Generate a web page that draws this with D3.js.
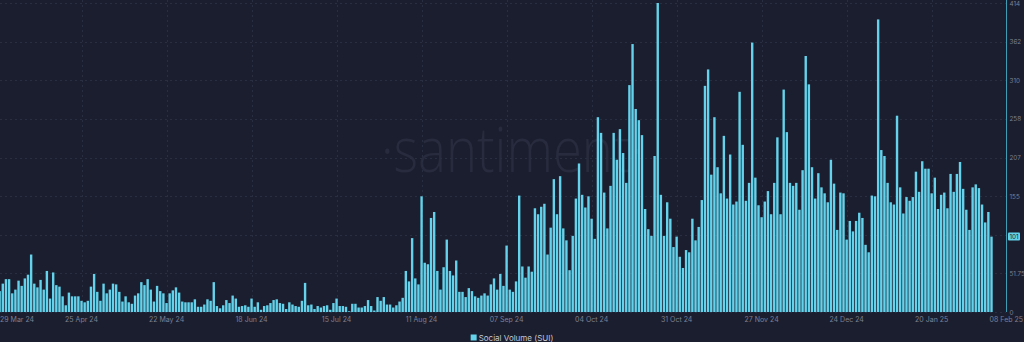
<!DOCTYPE html>
<html>
<head>
<meta charset="utf-8">
<script src="https://cdn.jsdelivr.net/npm/d3@7"></script>
<style>
  html, body { margin: 0; padding: 0; background: #1b1e2e; }
  svg { display: block; }
</style>
</head>
<body>
<svg id="chart" width="1024" height="342"></svg>
<script>
// ---------- DATA ----------
const startDate = "2024-03-29";
const endDate = "2025-02-08";
const seriesName = "Social Volume (SUI)";

const volumeMarToMay = [34,28,38,44,44,25,30,42,35,45,50,77,38,33,43,30,55,18,53,36,34,21,9,26,21,21,21,15,13,15,34,51,27,15,38,25,30,38,37,27,14,21,13,11,22,25,40,36,44,30,14,35,28,25,12,25,29,33,26,14,13,13,13,17,7,7,10,17,15,40,8,5,9,16,12,22,18,7,8,9];
const volumeJunToAug = [7,18,7,13,3,8,9,12,16,17,12,11,4,13,10,8,7,15,39,9,10,4,8,6,8,9,3,12,18,8,8,7,1,11,11,6,6,8,16,8,2,20,15,20,10,10,6,9,14,19,55,41,99,45,37,155,66,64,126,134,55,30,60,97,55,49,69,27,27,20,32,28,21,19,22,25,22,37,45,30];
const volumeAugToNov = [51,35,89,30,27,41,156,61,46,61,54,139,131,141,145,77,113,178,131,182,112,96,56,102,152,199,157,140,155,125,98,261,240,160,112,169,240,204,245,213,173,304,359,272,257,237,138,111,102,209,414,157,102,147,125,87,101,74,59,83,80,125,96,114,150,303,325,184,261,194,159,236,152,211,144,148,295,224,149,173];
const volumeNovToFeb = [361,180,143,127,148,162,131,173,234,131,298,241,173,169,173,137,190,343,305,194,152,186,167,159,147,204,172,110,160,159,97,122,108,122,133,126,90,80,156,155,392,217,209,173,147,144,263,167,132,154,149,154,188,161,202,192,192,159,180,138,157,160,139,185,161,185,201,165,137,110,167,171,166,144,120,134,101];

const xTickDates = ["2024-03-29","2024-04-25","2024-05-22","2024-06-18","2024-07-15","2024-08-11","2024-09-07","2024-10-04","2024-10-31","2024-11-27","2024-12-24","2025-01-20","2025-02-08"];
const xTickLabels = ["29 Mar 24","25 Apr 24","22 May 24","18 Jun 24","15 Jul 24","11 Aug 24","07 Sep 24","04 Oct 24","31 Oct 24","27 Nov 24","24 Dec 24","20 Jan 25","08 Feb 25"];
const yTickValues = [0, 51.75, 103.5, 155.25, 207, 258.75, 310.5, 362.25, 414];
const yTickLabels = ["0","51.75","","155","207","258","310","362","414"];

// ---------- BUILD ----------
const parse = d3.utcParse("%Y-%m-%d");
const values = [].concat(volumeMarToMay, volumeJunToAug, volumeAugToNov, volumeNovToFeb);
const dates = d3.utcDay.range(parse(startDate), d3.utcDay.offset(parse(endDate), 1));
const data = dates.map((d, i) => ({date: d, value: values[i]})).filter(d => d.value != null);

const svg = d3.select("#chart");
const W = 1024, H = 342;

const x = d3.scaleUtc().domain([parse(startDate), parse(endDate)]).range([-3.5, 991.5]);
const y = d3.scaleLinear().domain([0, 414]).range([312, 3]);
const step = x(d3.utcDay.offset(parse(startDate), 1)) - x(parse(startDate));
const barW = step * 0.76;

const font = "Inter, 'Open Sans', 'DejaVu Sans', sans-serif";

// background
svg.append("rect").attr("width", W).attr("height", H).attr("fill", "#1b1e2e");

// watermark
svg.append("text")
  .attr("x", 512).attr("y", 172)
  .attr("text-anchor", "middle")
  .attr("font-family", "'Open Sans', Lato, sans-serif")
  .attr("font-weight", 300)
  .attr("font-size", 62)
  .attr("fill", "#272b3d")
  .attr("textLength", 262)
  .attr("lengthAdjust", "spacingAndGlyphs")
  .text("·santiment·");

// grid lines
const grid = svg.append("g");
grid.selectAll("line.h").data(yTickValues).join("line")
  .attr("x1", 0).attr("x2", 1006)
  .attr("y1", d => Math.round(y(d)) + 0.5).attr("y2", d => Math.round(y(d)) + 0.5)
  .attr("stroke", "#2a2e41").attr("stroke-width", 1).attr("stroke-dasharray", "2,3");
grid.selectAll("line.v").data(xTickDates.slice(1, -1)).join("line")
  .attr("x1", d => Math.round(x(parse(d))) + 0.5).attr("x2", d => Math.round(x(parse(d))) + 0.5)
  .attr("y1", 0).attr("y2", 312)
  .attr("stroke", "#2a2e41").attr("stroke-width", 1).attr("stroke-dasharray", "2,3");

// bars
svg.append("g").selectAll("rect").data(data).join("rect")
  .attr("x", d => x(d.date) - barW / 2)
  .attr("width", barW)
  .attr("y", d => y(d.value))
  .attr("height", d => y(0) - y(d.value))
  .attr("fill", "#63d2ea");

// right axis line
svg.append("line")
  .attr("x1", 1006.5).attr("x2", 1006.5).attr("y1", 0).attr("y2", 312)
  .attr("stroke", "#3f9db3").attr("stroke-width", 1);

// y axis labels
const yAxis = d3.axisRight(y).tickValues(yTickValues)
  .tickFormat((d, i) => yTickLabels[i]).tickSize(0).tickPadding(0);
const yg = svg.append("g").attr("transform", "translate(1009.5,0)").call(yAxis);
yg.select(".domain").remove();
yg.selectAll("text").attr("fill", "#7b8094").attr("font-size", 6.3).attr("font-family", font);

// current value box
const last = data[data.length - 1];
svg.append("rect")
  .attr("x", 1008).attr("y", y(last.value) - 4)
  .attr("width", 12).attr("height", 8).attr("rx", 1)
  .attr("fill", "#63d2ea");
svg.append("text")
  .attr("x", 1014).attr("y", y(last.value) + 2.3)
  .attr("text-anchor", "middle")
  .attr("font-size", 6.3).attr("font-family", font).attr("fill", "#1b1e2e")
  .text(last.value);

// x axis labels
const xl = svg.append("g");
xTickDates.forEach((d, i) => {
  const px = x(parse(d));
  const t = xl.append("text")
    .attr("y", 322)
    .attr("font-size", 7).attr("font-family", font).attr("fill", "#7b8094")
    .text(xTickLabels[i]);
  const w = t.node().getComputedTextLength();
  let left = px - w / 2;
  if (i === 0) left = Math.max(0, left);
  if (i === xTickDates.length - 1) left = Math.min(px - 1, W - w - 1);
  t.attr("x", left);
});

// legend
const lg = svg.append("g");
const lt = lg.append("text")
  .attr("y", 340.5)
  .attr("font-size", 8).attr("font-family", font).attr("fill", "#c3c7d3")
  .text(seriesName);
const lw = lt.node().getComputedTextLength();
const lx = 512 - (lw + 8) / 2;
lg.append("rect").attr("x", lx).attr("y", 334.5).attr("width", 6).attr("height", 6).attr("fill", "#63d2ea");
lt.attr("x", lx + 8);
</script>
</body>
</html>
